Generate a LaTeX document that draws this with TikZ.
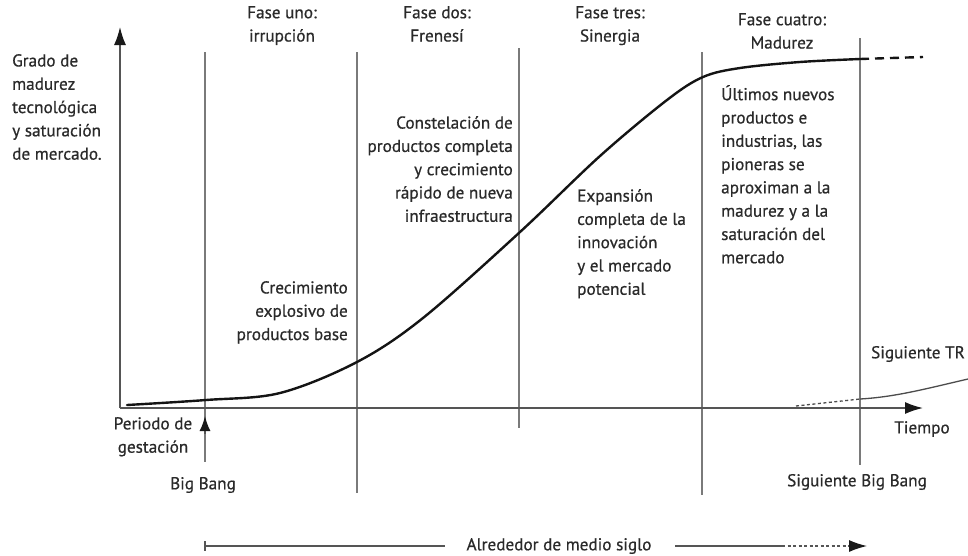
\documentclass[tikz,border=0pt]{standalone}
\usepackage{fontspec}
\setmainfont{PT Sans}[FakeBold=0.6]
\usetikzlibrary{arrows.meta,calc}
\definecolor{txt}{HTML}{2A2A2A}
\definecolor{gridc}{HTML}{7A7A7A}
\definecolor{axc}{HTML}{555555}
\begin{document}
\begin{tikzpicture}[x=1pt,y=-1pt,
  lbl/.style={font=\fontsize{17.2}{23.3}\selectfont, text=txt, inner sep=0pt},
  phaseline/.style={draw=gridc, line width=1.5pt},
  axisline/.style={draw=axc, line width=1.6pt},
  bigtip/.style={-{Latex[length=18pt,width=12pt,color=black!90]}},
  curve/.style={draw=black!92, line width=2.4pt, line cap=round},
  nextcurve/.style={draw=black!70, line width=1.3pt},
]
\fill[white] (0,0) rectangle (968,555);
\useasboundingbox (0,0) rectangle (968,555);

% coordinates
\coordinate (O) at (120,408);
\coordinate (Ytop) at (120,27);
\coordinate (Xend) at (923,408);
\coordinate (p1t) at (205,52);  \coordinate (p1b) at (205,462);
\coordinate (p2t) at (357,52);  \coordinate (p2b) at (357,493);
\coordinate (p3t) at (519,48);  \coordinate (p3b) at (519,428);
\coordinate (p4t) at (702,52);  \coordinate (p4b) at (702,495);
\coordinate (p5t) at (860,38);  \coordinate (p5b) at (860,465);

% phase lines
\draw[phaseline] (p1t) -- (p1b);
\draw[phaseline] (p2t) -- (p2b);
\draw[phaseline] (p3t) -- (p3b);
\draw[phaseline] (p4t) -- (p4b);
\draw[phaseline] (p5t) -- (p5b);

% axes
\draw[axisline, bigtip] (O) -- (Ytop);
\draw[axisline, bigtip] (O) -- (Xend);

% Big Bang arrow head
\coordinate (bbs) at (205,434);
\coordinate (bbt) at (205,416);
\draw[axisline, -{Latex[length=15pt,width=11pt,color=black!90]}] (bbs) -- (bbt);

% main S-curve
\coordinate (c0) at (127,405);
\coordinate (cEnd) at (860,59);
\coordinate (cDash) at (923,57);
\draw[curve] plot[smooth, tension=0.55] coordinates {(127,405) (206,400) (280,393) (357,362) (423,318) (520,232) (600,156) (667,100) (703,77) (740,68) (800,62) (860,59)};
\draw[curve, dash pattern=on 9pt off 6pt, line cap=butt] (cEnd) -- (cDash);

% next TR curve
\coordinate (n0) at (796,406);
\coordinate (n1) at (860,399);
\coordinate (n2) at (968,379);
\draw[nextcurve, dash pattern=on 3pt off 2.5pt] (n0) -- (n1);
\draw[nextcurve] (n1) .. controls (895,397) and (925,389) .. (n2);

% bottom arrow
\coordinate (b0) at (205,546);
\coordinate (b1) at (445,546);
\coordinate (b2) at (675,546);
\coordinate (b3) at (782,546);
\coordinate (b4) at (867,546);
\draw[draw=axc, line width=1.3pt] (b0) -- (b1);
\draw[draw=axc, line width=1.3pt] ($(b0)+(0,-5)$) -- ($(b0)+(0,5)$);
\draw[draw=axc, line width=1.3pt] (b2) -- (b3);
\draw[draw=axc, line width=1.3pt, dash pattern=on 3pt off 2.5pt, -{Latex[length=18pt,width=12pt,color=black!90]}] (b3) -- (b4);

% texts
\node[lbl, anchor=north west, align=left] (ylab) at (12,54) {Grado de\\madurez\\tecnológica\\y saturación\\de mercado.};
\node[lbl, anchor=north, align=center] (f1) at (282,6) {Fase uno:\\irrupción};
\node[lbl, anchor=north, align=center] (f2) at (437,6) {Fase dos:\\Frenesí};
\node[lbl, anchor=north, align=center] (f3) at (610,6) {Fase tres:\\Sinergia};
\node[lbl, anchor=north, align=center] (f4) at (782,13) {Fase cuatro:\\Madurez};
\node[lbl, anchor=north east, align=right] (crec) at (348,281) {Crecimiento\\explosivo de\\productos base};
\node[lbl, anchor=north east, align=right] (const) at (513,116) {Constelación de\\productos completa\\y crecimiento\\rápido de nueva\\infraestructura};
\node[lbl, anchor=north west, align=left] (expan) at (577,189) {Expansión\\completa de la\\innovación\\y el mercado\\potencial};
\node[lbl, anchor=north west, align=left] (ult) at (721,85) {Últimos nuevos\\productos e\\industrias, las\\pioneras se\\aproximan a la\\madurez y a la\\saturación del\\mercado};
\node[lbl] (sigtr) at (918,354) {Siguiente TR};
\node[lbl] (tiempo) at (922,429) {Tiempo};
\node[lbl] (sigbb) at (857,482) {Siguiente Big Bang};
\node[lbl, anchor=north, align=center] (periodo) at (153,417) {Periodo de\\gestación};
\node[lbl] (bigbang) at (203,485) {Big Bang};
\node[lbl] (alred) at (559,546) {Alrededor de medio siglo};
\end{tikzpicture}
\end{document}
